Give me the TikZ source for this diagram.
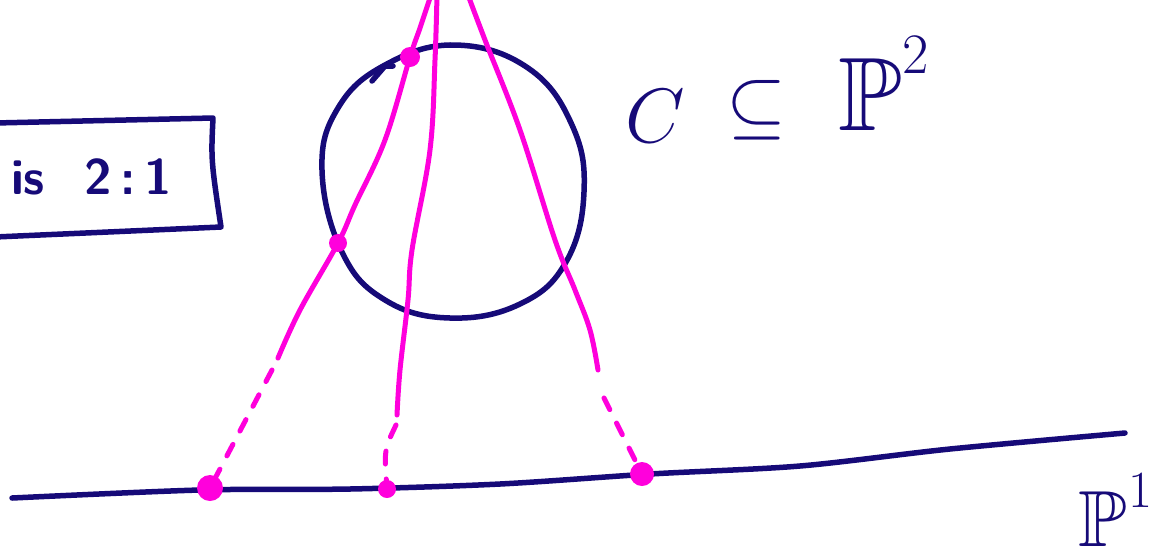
\documentclass[tikz,border=0pt]{standalone}
\usepackage{amsmath,amssymb}
\usepackage{tikz}
\definecolor{ink}{RGB}{22,10,120}
\definecolor{pen}{RGB}{255,0,220}
\tikzset{
  inkline/.style={draw=ink,line width=5.5pt,line cap=round,line join=round},
  penline/.style={draw=pen,line width=5pt,line cap=round,line join=round},
  pendash/.style={penline,dash pattern=on 13pt off 15pt},
  penlabel/.style={text=ink,inner sep=0pt,font=\Huge},
}
\begin{document}
\begin{tikzpicture}[x=1pt,y=-1pt]
		\useasboundingbox (0,0) rectangle (1152,550);

		% >>> box
		\draw[inkline] (-5,123) -- (213,118) .. controls (211,160) .. (221,227) -- (-5,237);
		\node[penlabel,anchor=west,font=\sffamily\bfseries,scale=5.0] (boxtext) at (10,177) {is\hspace{8pt}2\,:\,1};
		% <<< box

		% >>> curve C
		\draw[inkline] plot[smooth cycle,tension=0.7] coordinates {(455,45) (528,68) (572,125) (584,192) (566,262) (520,304) (450,318) (385,300) (342,252) (322,170) (338,108) (385,65)};
		\draw[inkline] (372,81) -- (385,66) -- (393,66);
		% <<< curve C

		% >>> labels
		\node[penlabel,scale=3.1] (lblC) at (655,116) {$C$};
		\node[penlabel,scale=3.1] (lblsub) at (756,110) {$\subseteq$};
		\node[penlabel,scale=4.2,anchor=south west] (lblP) at (838,131) {$\mathbb{P}$};
		\node[penlabel,scale=2.3] (lblPsup) at (916,55) {$2$};
		\node[penlabel,scale=3.2,anchor=south west] (lblline) at (1078,547) {$\mathbb{P}$};
		\node[penlabel,scale=2.1] (lbllinesup) at (1140,491) {$1$};
		% <<< labels

		% >>> line P1
		\draw[inkline] plot[smooth,tension=0.5] coordinates {(12,498) (200,490) (350,489) (500,484) (650,474) (800,466) (950,449) (1125,433)};
		% <<< line P1

		% >>> lines through the point
		\coordinate (a1) at (410,57);
		\coordinate (a2) at (338,243);
		\coordinate (b1) at (210,488);
		\coordinate (b2) at (387,489);
		\coordinate (b3) at (642,474);
		\draw[penline] plot[smooth,tension=0.6] coordinates {(431,-5) (420,28) (a1) (385,140) (355,205) (a2) (300,310) (278,358)};
		\draw[penline] plot[smooth,tension=0.6] coordinates {(437,-5) (435,60) (430,150) (412,250) (408,300) (400,370) (397,415)};
		\draw[penline] plot[smooth,tension=0.6] coordinates {(468,-5) (485,40) (520,130) (555,240) (575,290) (590,330) (598,370)};
		\draw[pendash] (272,370) -- (b1);
		\draw[pendash] (396,425) .. controls (384,450) .. (b2);
		\draw[pendash] (604,398) -- (b3);

		\fill[pen] (a1) circle (10);
		\fill[pen] (a2) circle (9);
		\fill[pen] (b1) circle (13);
		\fill[pen] (b2) circle (9);
		\fill[pen] (b3) circle (12);
		% <<< lines through the point
\end{tikzpicture}
\end{document}
